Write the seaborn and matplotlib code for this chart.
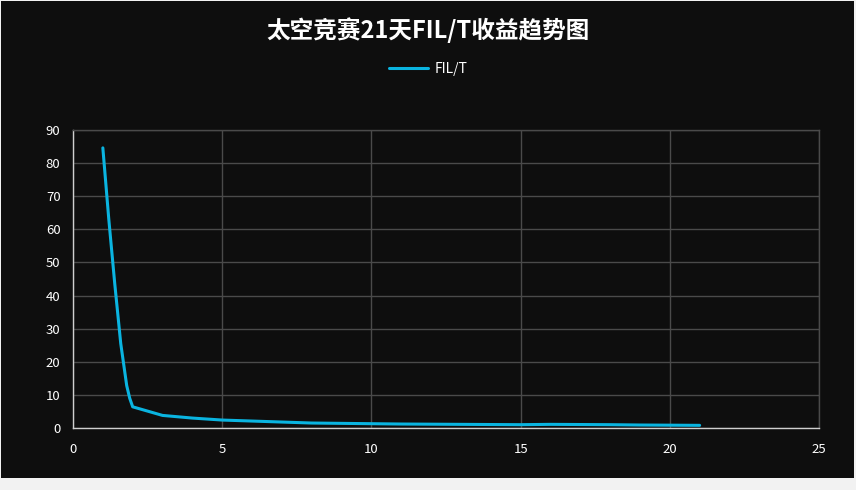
import matplotlib
matplotlib.use("Agg")
import matplotlib.pyplot as plt
import pandas as pd
import seaborn as sns
from matplotlib.patches import Rectangle

days = [1, 1.2, 1.4, 1.6, 1.8, 1.9, 2, 3, 4, 5, 6, 7, 8, 9, 10, 11, 12, 13, 14, 15, 16, 17, 18, 19, 20, 21]
fil_per_t = [84.6, 63.0, 43.5, 25.5, 12.8, 9.0, 6.4, 3.8, 3.0, 2.4, 2.1, 1.8, 1.5, 1.4, 1.3, 1.2, 1.15,
             1.1, 1.05, 1.0, 1.1, 1.05, 1.0, 0.9, 0.85, 0.8]
x_ticks = [0, 5, 10, 15, 20, 25]
y_ticks = [0, 10, 20, 30, 40, 50, 60, 70, 80, 90]
series_name = "FIL/T"
title = "太空竞赛21天FIL/T收益趋势图"

BG = "#0e0e0e"
LINE = "#0ab4e0"

sns.set_theme(style="dark")
plt.rcParams["font.family"] = ["Noto Sans CJK SC", "DejaVu Sans"]


def main():
    df = pd.DataFrame({"day": days, "value": fil_per_t, "series": series_name})

    fig = plt.figure(figsize=(8.56, 4.9), dpi=100, facecolor="#f2f2f2")
    fig.patches.append(Rectangle((1 / 856, 12 / 490), 853 / 856, 477 / 490,
                                 transform=fig.transFigure, facecolor=BG,
                                 edgecolor="none", zorder=-10))
    ax = fig.add_axes([73 / 856, 1 - 428 / 490, 746 / 856, 298 / 490])
    ax.set_facecolor(BG)

    sns.lineplot(data=df, x="day", y="value", hue="series", palette=[LINE],
                 linewidth=2.2, ax=ax)

    ax.set_xlim(0, 25)
    ax.set_ylim(0, 90)
    ax.set_xticks(x_ticks)
    ax.set_yticks(y_ticks)
    ax.set_xlabel("")
    ax.set_ylabel("")
    ax.grid(True, color="#4a4a4a", linewidth=1)
    ax.tick_params(colors="white", labelsize=9.5, length=0)
    ax.tick_params(axis="x", pad=11)
    ax.tick_params(axis="y", pad=9)
    for side in ["top", "right"]:
        ax.spines[side].set_color("#4a4a4a")
        ax.spines[side].set_linewidth(1)
    for side in ["left", "bottom"]:
        ax.spines[side].set_color("#cfcfcf")
        ax.spines[side].set_linewidth(1)

    leg = ax.legend(loc="center", bbox_to_anchor=(0.5, 1 - 69 / 490),
                    bbox_transform=fig.transFigure, frameon=False,
                    fontsize=10, handlelength=2.8, handletextpad=0.5)
    for t in leg.get_texts():
        t.set_color("white")

    fig.text(0.5, 1 - 30 / 490, title, ha="center", va="center",
             color="white", fontsize=17, fontweight="bold")

    fig.savefig("out.png", dpi=100, facecolor=fig.get_facecolor())
    plt.close(fig)


if __name__ == "__main__":
    main()
